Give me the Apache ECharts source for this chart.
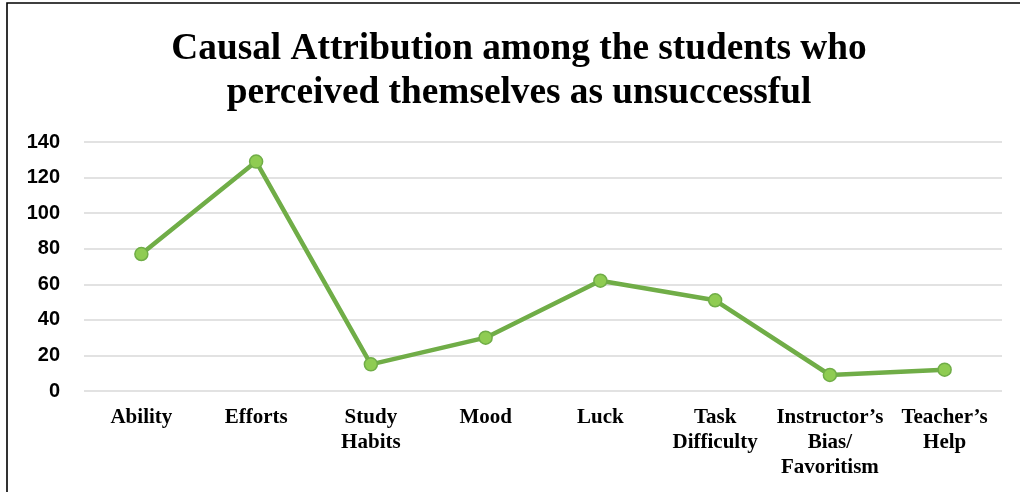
<!DOCTYPE html>
<html>
<head>
<meta charset="utf-8">
<script src="https://cdn.jsdelivr.net/npm/echarts@6/dist/echarts.min.js"></script>
<style>
  html, body { margin: 0; padding: 0; background: #fff; }
  #chart { width: 1020px; height: 492px; }
</style>
</head>
<body>
<div id="chart"></div>
<script>
// Causes students named for their lack of success
const categories = ['Ability', 'Efforts', 'Study\nHabits', 'Mood', 'Luck', 'Task\nDifficulty', 'Instructor\u2019s\nBias/\nFavoritism', 'Teacher\u2019s\nHelp'];
const counts = [77, 129, 15, 30, 62, 51, 9, 12];
const yTicks = { min: 0, max: 140, interval: 20 };

const chart = echarts.init(document.getElementById('chart'));
chart.setOption({
  animation: false,
  backgroundColor: '#ffffff',
  title: {
    text: 'Causal Attribution among the students who\nperceived themselves as unsuccessful',
    left: 514,
    top: 22,
    textAlign: 'center',
    textStyle: {
      fontFamily: '"Liberation Serif", "Times New Roman", serif',
      fontWeight: 'bold',
      fontSize: 37.3,
      lineHeight: 44,
      color: '#000000'
    }
  },
  graphic: [{
    type: 'rect',
    shape: { x: 7, y: 3, width: 1100, height: 600 },
    style: { fill: 'none', stroke: '#000000', lineWidth: 1.6 },
    silent: true
  }],
  grid: { left: 84, right: 18, top: 142, bottom: 101 },
  xAxis: {
    type: 'category',
    data: categories,
    boundaryGap: true,
    axisLine: { show: false },
    axisTick: { show: false },
    axisLabel: {
      interval: 0,
      margin: 14,
      fontFamily: '"Liberation Serif", "Times New Roman", serif',
      fontWeight: 'bold',
      fontSize: 21,
      lineHeight: 25,
      color: '#000000'
    }
  },
  yAxis: {
    type: 'value',
    min: yTicks.min,
    max: yTicks.max,
    interval: yTicks.interval,
    axisLine: { show: false },
    axisTick: { show: false },
    splitLine: { lineStyle: { color: '#d9d9d9', width: 1.5 } },
    axisLabel: {
      margin: 24,
      fontFamily: '"Liberation Sans", Arial, sans-serif',
      fontWeight: 'bold',
      fontSize: 20,
      color: '#000000'
    }
  },
  series: [{
    type: 'line',
    data: counts,
    symbol: 'circle',
    symbolSize: 13,
    lineStyle: { color: '#70ad47', width: 4.5 },
    itemStyle: { color: '#8fcc52', borderColor: '#70ad47', borderWidth: 1.5 }
  }]
});
</script>
</body>
</html>
